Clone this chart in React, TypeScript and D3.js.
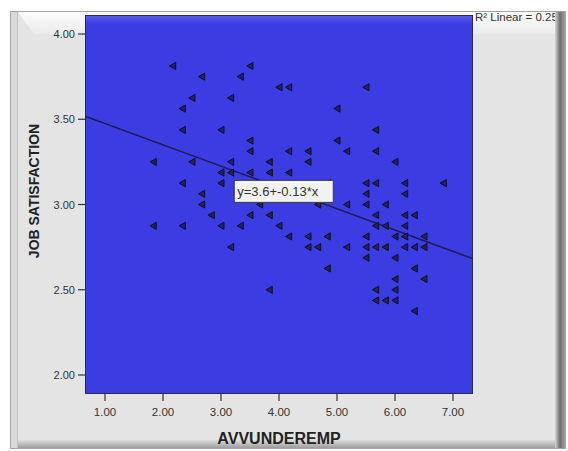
import React from 'react';
import * as d3 from 'd3';

// AVVUNDEREMP (x) and JOB SATISFACTION (y) values
const avvunderemp = [
  2.167, 3.5, 2.667, 3.333, 4.0, 4.167, 5.5, 2.5, 3.167, 2.333,
  5.0, 2.333, 3.0, 5.667, 3.5, 5.0, 3.5, 4.167, 4.5, 5.167,
  5.667, 1.833, 2.5, 3.167, 3.833, 4.5, 6.0, 3.0, 3.167, 3.5,
  3.833, 4.167, 2.333, 3.0, 4.833, 5.5, 5.667, 6.167, 6.833, 2.667,
  5.5, 6.167, 2.667, 3.667, 4.667, 5.167, 5.5, 5.833, 2.833, 3.5,
  3.833, 5.667, 6.167, 6.333, 1.833, 2.333, 3.0, 3.333, 4.0, 5.667,
  5.833, 6.167, 4.167, 4.5, 4.833, 5.5, 6.0, 6.167, 6.5, 3.167,
  4.5, 4.667, 5.167, 5.5, 5.667, 5.833, 6.167, 6.333, 6.5, 5.5,
  6.0, 4.833, 6.333, 6.0, 6.5, 3.833, 5.667, 6.0, 5.667, 5.833,
  6.0, 6.333,
];
const jobSatisfaction = [
  3.8125, 3.8125, 3.75, 3.75, 3.6875, 3.6875, 3.6875, 3.625, 3.625, 3.5625,
  3.5625, 3.4375, 3.4375, 3.4375, 3.375, 3.375, 3.3125, 3.3125, 3.3125, 3.3125,
  3.3125, 3.25, 3.25, 3.25, 3.25, 3.25, 3.25, 3.1875, 3.1875, 3.1875,
  3.1875, 3.1875, 3.125, 3.125, 3.125, 3.125, 3.125, 3.125, 3.125, 3.0625,
  3.0625, 3.0625, 3.0, 3.0, 3.0, 3.0, 3.0, 3.0, 2.9375, 2.9375,
  2.9375, 2.9375, 2.9375, 2.9375, 2.875, 2.875, 2.875, 2.875, 2.875, 2.875,
  2.875, 2.875, 2.8125, 2.8125, 2.8125, 2.8125, 2.8125, 2.8125, 2.8125, 2.75,
  2.75, 2.75, 2.75, 2.75, 2.75, 2.75, 2.75, 2.75, 2.75, 2.6875,
  2.6875, 2.625, 2.625, 2.5625, 2.5625, 2.5, 2.5, 2.5, 2.4375, 2.4375,
  2.4375, 2.375,
];
const xTickValues = [1, 2, 3, 4, 5, 6, 7];
const yTickValues = [2, 2.5, 3, 3.5, 4];
const fitIntercept = 3.6;
const fitSlope = -0.125;
const fitLabel = 'y=3.6+-0.13*x';
const r2Label = 'R² Linear = 0.255';
const xTitle = 'AVVUNDEREMP';
const yTitle = 'JOB SATISFACTION';
const labelAnchor = { x: 3.22, y: 3.08 };

export default function App() {
  const W = 568;
  const H = 451;
  const plot = { left: 85, right: 473, top: 15, bottom: 394 };
  const x = d3.scaleLinear().domain([0.655, 7.345]).range([plot.left, plot.right]);
  const y = d3.scaleLinear().domain([1.8886, 4.1114]).range([plot.bottom, plot.top]);
  const font = '"Liberation Sans", Arial, sans-serif';

  const [x0, x1] = x.domain();
  const fitLine = d3.line<number>()
    .x((d) => x(d))
    .y((d) => y(fitIntercept + fitSlope * d));

  const marker = 'M-3.2,0 L3,-3.6 L3,3.6 Z';
  const bx = x(labelAnchor.x);
  const by = y(labelAnchor.y);

  return (
    <svg width={W} height={H} style={{ position: 'fixed', left: 0, top: 0, display: 'block' }}>
      <defs>
        <linearGradient id="topBev" x1="0" y1="0" x2="0" y2="1">
          <stop offset="0" stopColor="#fbfbfb" />
          <stop offset="1" stopColor="#ebebeb" />
        </linearGradient>
        <linearGradient id="rightBev" x1="0" y1="0" x2="1" y2="0">
          <stop offset="0" stopColor="#d6d6d6" />
          <stop offset="0.45" stopColor="#6e6e6e" />
          <stop offset="1" stopColor="#a8a8a8" />
        </linearGradient>
        <linearGradient id="botBev" x1="0" y1="0" x2="0" y2="1">
          <stop offset="0" stopColor="#dedede" />
          <stop offset="1" stopColor="#9c9c9c" />
        </linearGradient>
        <linearGradient id="blueTop" x1="0" y1="0" x2="0" y2="1">
          <stop offset="0" stopColor="#5c5cf2" />
          <stop offset="1" stopColor="#3d3de3" />
        </linearGradient>
        <clipPath id="plotClip">
          <rect x={plot.left} y={plot.top} width={plot.right - plot.left} height={plot.bottom - plot.top} />
        </clipPath>
        <clipPath id="r2Clip">
          <rect x={plot.right} y={0} width={555 - plot.right} height={40} />
        </clipPath>
      </defs>
      <rect x={0} y={0} width={W} height={H} fill="#ffffff" />
      {/* frame */}
      <rect x={10.5} y={11.5} width={555} height={437} fill="#e4e4e4" stroke="#a4a4a4" />
      <rect x={11} y={12} width={6} height={436} fill="#d9d9d9" />
      <line x1={17.5} y1={12} x2={17.5} y2={448} stroke="#c2c2c2" />
      <polygon points="18,12 555,12 555,34 34,34" fill="url(#topBev)" />
      <rect x={18} y={440} width={537} height={8} fill="url(#botBev)" />
      <rect x={555} y={12} width={11} height={436} fill="url(#rightBev)" />

      {/* plot area */}
      <rect x={plot.left} y={plot.top} width={plot.right - plot.left} height={plot.bottom - plot.top} fill="#3c3ce3" />
      <rect x={plot.left} y={plot.top} width={plot.right - plot.left} height={9} fill="url(#blueTop)" />
      <rect x={plot.left + 0.5} y={plot.top + 0.5} width={plot.right - plot.left - 1} height={plot.bottom - plot.top - 1} fill="none" stroke="#2a2a4a" />

      <g clipPath="url(#plotClip)">
        <path d={fitLine([x0, x1]) || ''} fill="none" stroke="#1d1d52" strokeWidth={1.6} />
        {avvunderemp.map((v, i) => (
          <path key={i} d={marker} transform={`translate(${x(v)},${y(jobSatisfaction[i])})`}
            fill="#22225e" stroke="#0e0e26" strokeWidth={1} />
        ))}
      </g>

      {/* equation label */}
      <g transform={`translate(${bx},${by})`}>
        <rect x={0.5} y={-10.5} width={99} height={22} fill="#f2f2f0" stroke="#3a3a3a" />
        <text x={3.5} y={5} fontFamily={font} fontSize={13} fill="#333">{fitLabel}</text>
      </g>

      {/* axes */}
      {xTickValues.map((t) => (
        <g key={t}>
          <line x1={x(t)} x2={x(t)} y1={plot.bottom} y2={plot.bottom + 7} stroke="#333" strokeWidth={1.2} />
          <text x={x(t)} y={416} textAnchor="middle" fontFamily={font} fontSize={11.5} fill="#333">{t.toFixed(2)}</text>
        </g>
      ))}
      {yTickValues.map((t) => (
        <g key={t}>
          <line x1={plot.left - 7} x2={plot.left} y1={y(t)} y2={y(t)} stroke="#333" strokeWidth={1.2} />
          <text x={75} y={y(t) + 4} textAnchor="end" fontFamily={font} fontSize={11} fill="#333">{t.toFixed(2)}</text>
        </g>
      ))}
      <text x={279} y={444} textAnchor="middle" fontFamily={font} fontSize={16} fontWeight="bold" fill="#222">{xTitle}</text>
      <text transform={`translate(39,191) rotate(-90)`} textAnchor="middle" fontFamily={font} fontSize={14} fontWeight="bold" fill="#222">{yTitle}</text>

      <g clipPath="url(#r2Clip)">
        <text x={475} y={21} fontFamily={font} fontSize={11.5} fill="#333">{r2Label}</text>
      </g>
    </svg>
  );
}
